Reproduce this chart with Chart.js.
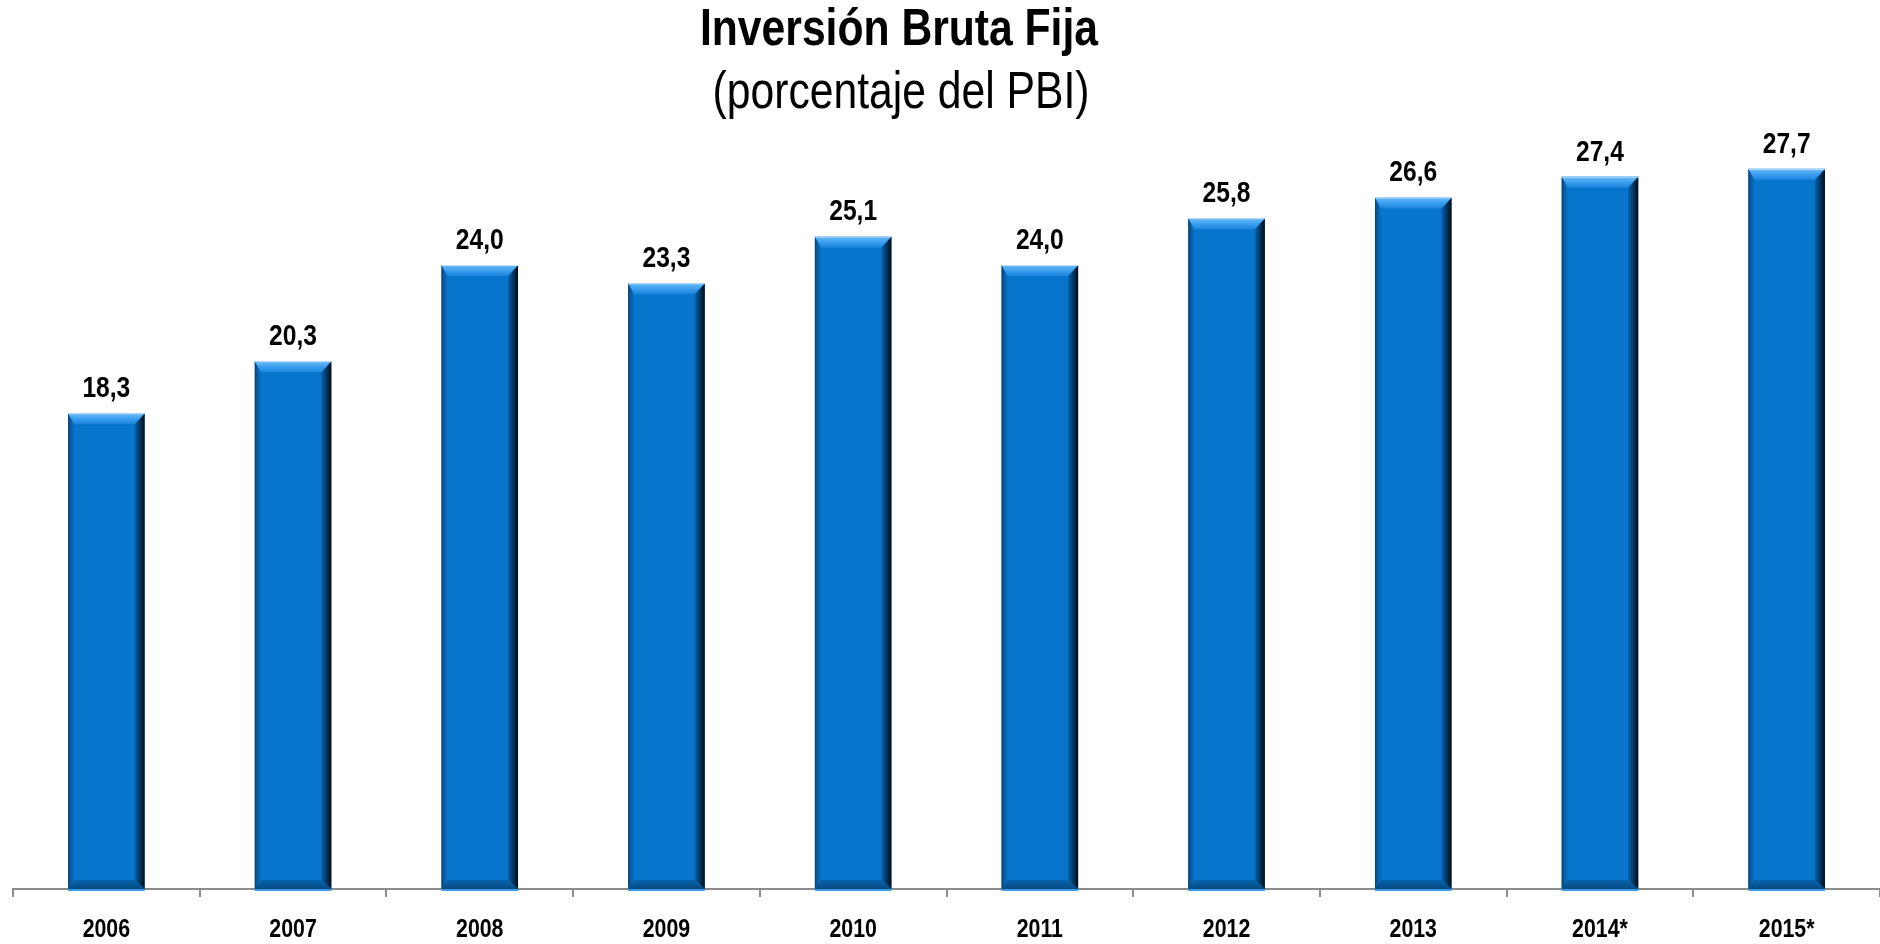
<!DOCTYPE html>
<html>
<head>
<meta charset="utf-8">
<script src="https://cdn.jsdelivr.net/npm/chart.js@4"></script>
<style>
  html, body { margin: 0; padding: 0; background: #ffffff; }
  #wrap { width: 1880px; height: 944px; position: relative; }
</style>
</head>
<body>
<div id="wrap"><canvas id="c" width="1880" height="944"></canvas></div>
<script>
const categories = ['2006', '2007', '2008', '2009', '2010', '2011', '2012', '2013', '2014*', '2015*'];
const values = [18.3, 20.3, 24.0, 23.3, 25.1, 24.0, 25.8, 26.6, 27.4, 27.7];
const titleText = 'Inversión Bruta Fija';
const subtitleText = '(porcentaje del PBI)';

const FONT = '"Liberation Sans", Arial, sans-serif';
const NARROW = 0.82; // Arial Narrow width ratio

function fmt(v) { return v.toFixed(1).replace('.', ','); }

function narrowText(ctx, text, x, y, font, baseline) {
  ctx.save();
  ctx.font = font;
  ctx.fillStyle = '#000000';
  ctx.textAlign = 'center';
  ctx.textBaseline = baseline || 'middle';
  ctx.translate(x, y);
  ctx.scale(NARROW, 1);
  ctx.fillText(text, 0, 0);
  ctx.restore();
}

const bevelPlugin = {
  id: 'bevel',
  afterDatasetsDraw(chart) {
    const ctx = chart.ctx;
    const meta = chart.getDatasetMeta(0);
    meta.data.forEach((bar) => {
      const p = bar.getProps(['x', 'y', 'base', 'width'], true);
      const L = p.x - p.width / 2, R = p.x + p.width / 2;
      const T = p.y, B = p.base;
      const tb = 11, rb = 10, lb = 6, bb = 9;
      ctx.save();
      let g = ctx.createLinearGradient(L, 0, L + lb, 0);
      g.addColorStop(0, '#0a3f70'); g.addColorStop(0.4, '#0a5a9e'); g.addColorStop(1, '#0870c4');
      ctx.fillStyle = g;
      ctx.beginPath(); ctx.moveTo(L, T); ctx.lineTo(L + lb, T + tb); ctx.lineTo(L + lb, B - bb); ctx.lineTo(L, B); ctx.closePath(); ctx.fill();
      g = ctx.createLinearGradient(R - rb, 0, R, 0);
      g.addColorStop(0, '#0662ae'); g.addColorStop(0.45, '#043c6a'); g.addColorStop(1, '#010c16');
      ctx.fillStyle = g;
      ctx.beginPath(); ctx.moveTo(R, T); ctx.lineTo(R, B); ctx.lineTo(R - rb, B - bb); ctx.lineTo(R - rb, T + tb); ctx.closePath(); ctx.fill();
      g = ctx.createLinearGradient(0, B - bb, 0, B);
      g.addColorStop(0, '#0864ac'); g.addColorStop(1, '#044a82');
      ctx.fillStyle = g;
      ctx.beginPath(); ctx.moveTo(L, B); ctx.lineTo(R, B); ctx.lineTo(R - rb, B - bb); ctx.lineTo(L + lb, B - bb); ctx.closePath(); ctx.fill();
      g = ctx.createLinearGradient(0, T, 0, T + tb);
      g.addColorStop(0, '#6cbcf6'); g.addColorStop(0.5, '#3c9ff0'); g.addColorStop(1, '#1a86dc');
      ctx.fillStyle = g;
      ctx.beginPath(); ctx.moveTo(L, T); ctx.lineTo(R, T); ctx.lineTo(R - rb, T + tb); ctx.lineTo(L + lb, T + tb); ctx.closePath(); ctx.fill();
      ctx.strokeStyle = 'rgba(210,230,250,0.9)';
      ctx.lineWidth = 1;
      ctx.beginPath(); ctx.moveTo(L, T + 0.5); ctx.lineTo(R, T + 0.5); ctx.stroke();
      ctx.strokeStyle = '#3d9be6';
      ctx.lineWidth = 2;
      ctx.beginPath(); ctx.moveTo(L, B + 1); ctx.lineTo(R, B + 1); ctx.stroke();
      ctx.restore();
    });
    meta.data.forEach((bar, i) => {
      const p = bar.getProps(['x', 'y'], true);
      narrowText(ctx, fmt(values[i]), p.x, p.y - 16, 'bold 30px ' + FONT, 'alphabetic');
    });
  },
  afterDraw(chart) {
    const ctx = chart.ctx;
    const xs = chart.scales.x;
    narrowText(ctx, titleText, 899, 31, 'bold 52px ' + FONT, 'middle');
    narrowText(ctx, subtitleText, 901, 94, 'normal 52px ' + FONT, 'middle');
    categories.forEach((c, i) => {
      narrowText(ctx, c, xs.getPixelForTick(i), chart.chartArea.bottom + 41, 'bold 26px ' + FONT, 'middle');
    });
  }
};

new Chart(document.getElementById('c'), {
  type: 'bar',
  data: {
    labels: categories,
    datasets: [{
      data: values,
      backgroundColor: '#0875cc',
      borderWidth: 0,
      categoryPercentage: 1.0,
      barPercentage: 0.41
    }]
  },
  options: {
    responsive: false,
    animation: false,
    devicePixelRatio: 1,
    layout: { padding: { left: 13, right: 0, top: 109, bottom: 47 } },
    plugins: {
      legend: { display: false },
      tooltip: { enabled: false },
      title: { display: false }
    },
    scales: {
      x: {
        grid: { display: true, offset: true, drawOnChartArea: false, drawTicks: true, tickLength: 8, color: '#8c8c8c', lineWidth: 2 },
        border: { display: true, color: '#8c8c8c', width: 2 },
        ticks: { display: false }
      },
      y: {
        display: false,
        min: 0,
        max: 30
      }
    }
  },
  plugins: [bevelPlugin]
});
</script>
</body>
</html>
